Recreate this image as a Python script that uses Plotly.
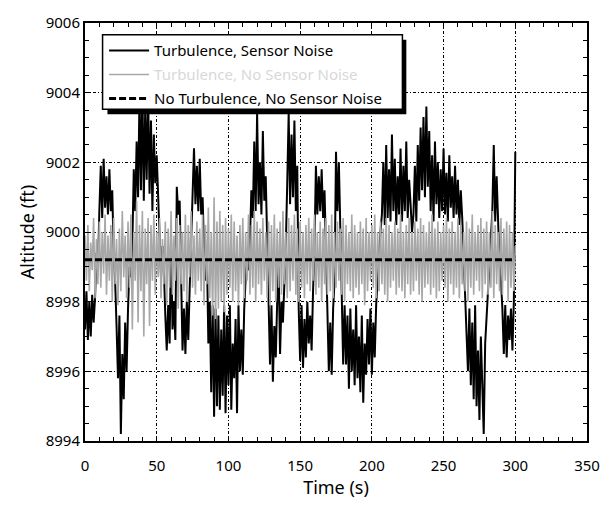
import plotly.graph_objects as go

# Sample times (s), one sample per second over the 300 s run
time_s = list(range(0, 301))

# Altitude with turbulence and sensor noise (ft)
alt_turb_noise = [
    8997.2, 8998.3, 8996.9, 8998.0, 8997.0, 8998.2, 8997.4, 8998.1, 8999.4, 8998.9,
    9000.6, 9001.9, 9000.4, 9002.1, 9000.7, 9001.6, 9000.5, 9001.8, 9000.6, 9001.2,
    8999.4, 8998.6, 8997.3, 8995.8, 8997.6, 8994.2, 8996.5, 8995.2, 8997.4, 8996.0,
    8997.8, 8999.0, 8998.7, 8999.6, 9001.8, 9000.6, 9002.6, 9001.0, 9003.9, 9001.2,
    9004.2, 9000.9, 9003.6, 9001.5, 9004.0, 9001.1, 9003.2, 9000.6, 9002.8, 9001.4,
    9002.2, 9000.8, 8999.4, 8998.7, 8999.6, 8998.9, 8997.6, 8996.6, 8997.9, 8996.8,
    8999.8, 8997.2, 8998.0, 8996.9, 9001.3, 9000.5, 9000.9, 8999.0, 8996.6, 8997.8,
    8996.5, 8998.0, 8996.9, 8998.4, 8999.6, 9001.1, 9002.4, 9000.8, 9001.9, 9000.6,
    9002.1, 9000.5, 9001.0, 8999.5, 8998.6, 8999.4, 8996.8, 8998.0, 8995.4, 8997.9,
    8994.7, 8997.8, 8995.0, 8997.6, 8994.9, 8997.2, 8995.3, 8997.9, 8994.8, 8997.6,
    8995.6, 8997.9, 8994.9, 8996.8, 8995.8, 8997.5, 8994.8, 8997.9, 8996.0, 8997.2,
    8995.9, 8997.8, 8998.8, 8999.5, 8998.9, 8999.8, 9001.2, 9000.4, 9002.6, 9000.6,
    9003.4, 9000.8, 9002.0, 9000.5, 9002.9, 9000.9, 9001.6, 8999.6, 8997.6, 8996.2,
    8997.9, 8995.7, 8997.3, 8996.4, 8998.0, 8999.0, 8996.5, 8998.0, 8997.4, 8998.4,
    8999.6, 9001.4, 9003.4, 9000.8, 9002.8, 9001.0, 9003.2, 9000.6, 9001.9, 8997.8,
    8996.3, 8997.9, 8996.1, 8997.5, 8996.4, 8998.0, 8996.8, 8997.6, 8996.6, 8998.3,
    8999.6, 9001.9, 9000.5, 9001.6, 9000.6, 9001.8, 9000.4, 9001.2, 8999.5, 8998.4,
    8996.0, 8997.4, 8995.9, 8997.8, 8998.6, 9002.3, 9000.6, 9002.0, 9000.4, 8998.2,
    8996.2, 8997.9, 8996.2, 8997.6, 8995.5, 8997.8, 8996.0, 8997.2, 8995.6, 8997.9,
    8995.8, 8997.0, 8995.4, 8997.6, 8995.1, 8996.8, 8995.9, 8997.5, 8996.2, 8997.8,
    8995.9, 8997.4, 8996.4, 8997.9, 8998.6, 8999.4, 9000.0, 9000.5, 9002.0, 9000.2,
    9002.5, 9000.4, 9001.8, 9000.3, 9002.8, 9000.6, 9002.1, 9000.2, 9001.6, 9000.5,
    9002.4, 9000.3, 9001.9, 9000.6, 9002.6, 9000.4, 9001.5, 9000.8, 9000.0, 9000.5,
    9001.9, 9000.3, 9002.5, 9000.9, 9003.0, 9001.2, 9003.3, 9001.0, 9003.6, 9001.3,
    9002.9, 9000.6, 9002.2, 9000.3, 9002.6, 9000.8, 9002.0, 9000.4, 9001.8, 9000.6,
    9002.4, 9000.5, 9001.7, 9000.3, 9002.2, 9000.7, 9001.6, 9000.4, 9001.9, 9000.5,
    9001.5, 9000.2, 9001.2, 9000.4, 8999.3, 8998.6, 8997.2, 8996.0, 8997.8, 8995.6,
    8997.4, 8995.2, 8997.9, 8995.0, 8996.6, 8994.6, 8997.0, 8995.4, 8994.2, 8996.8,
    8997.6, 8998.6, 8999.4, 8999.9, 9000.6, 9002.5, 9000.3, 9001.6, 9000.4, 8999.1,
    8998.6, 8997.8, 8996.5, 8997.9, 8996.4, 8997.6, 8996.9, 8997.8, 8996.6, 8998.0,
    9002.3,
]

# Altitude with turbulence only (ft)
alt_turb_only = [
    8999.9, 8998.6, 9000.2, 8998.3, 8999.7, 8998.9, 9000.4, 8998.1, 8999.8, 8998.5,
    9000.3, 8998.4, 9000.0, 8998.8, 9000.5, 8998.2, 8999.9, 8998.6, 9000.2, 8998.0,
    9000.4, 8998.5, 8999.8, 8997.9, 9000.1, 8998.3, 9000.6, 8998.7, 8999.9, 8998.1,
    9000.3, 8998.4, 9000.5, 8997.2, 9000.0, 8998.6, 9000.9, 8997.4, 9000.2, 8998.3,
    9000.6, 8997.0, 9000.1, 8998.5, 9000.4, 8997.3, 9000.2, 8998.6, 9000.5, 8998.2,
    9000.0, 8998.7, 9000.4, 8998.1, 8999.8, 8998.5, 9000.3, 8997.9, 9000.1, 8998.4,
    9000.6, 8998.2, 8999.9, 8998.6, 9000.4, 8997.8, 9000.2, 8998.5, 9000.0, 8998.3,
    9000.5, 8998.0, 9000.2, 8998.7, 9000.6, 8998.4, 8999.9, 8998.2, 9000.3, 8998.6,
    9000.1, 8998.3, 9000.5, 8997.9, 9000.2, 8998.5, 9000.7, 8998.1, 9000.0, 8997.6,
    9001.0, 8997.5, 9000.3, 8997.8, 9000.6, 8998.0, 9000.2, 8997.7, 9000.4, 8998.2,
    9000.1, 8998.4, 9000.5, 8998.0, 9000.3, 8998.3, 8999.9, 8997.9, 9000.2, 8998.5,
    9000.4, 8998.1, 9000.0, 8998.6, 9000.5, 8998.2, 9000.2, 8998.4, 9000.6, 8998.0,
    9000.3, 8998.5, 9000.1, 8998.2, 9000.4, 8998.6, 9000.0, 8998.1, 9000.3, 8997.9,
    9000.2, 8998.3, 9000.5, 8998.0, 9000.1, 8998.4, 9000.3, 8998.2, 9000.6, 8998.5,
    9000.0, 8998.1, 9000.4, 8998.3, 9000.2, 8998.6, 9000.5, 8998.2, 9000.1, 8998.0,
    9000.3, 8998.4, 9000.0, 8998.1, 9000.2, 8998.5, 9000.4, 8998.3, 9000.1, 8998.6,
    9000.5, 8998.2, 9000.0, 8998.4, 9000.3, 8998.0, 9000.1, 8998.5, 9000.4, 8998.2,
    9000.2, 8998.3, 9000.5, 8998.1, 9000.0, 8998.4, 9000.3, 8998.6, 9000.1, 8998.2,
    9000.4, 8998.0, 9000.2, 8998.5, 9000.0, 8998.3, 9000.5, 8998.1, 9000.2, 8998.4,
    9000.0, 8998.2, 9000.3, 8998.5, 9000.1, 8997.9, 9000.4, 8998.3, 9000.0, 8998.6,
    9000.2, 8998.4, 9000.5, 8998.1, 9000.0, 8998.3, 9000.3, 8998.5, 9000.1, 8998.2,
    9000.4, 8998.0, 9000.2, 8998.4, 9000.0, 8998.6, 9000.3, 8998.2, 9000.1, 8998.4,
    9000.5, 8998.3, 9000.0, 8998.1, 9000.2, 8998.5, 9000.4, 8998.2, 9000.0, 8998.3,
    9000.3, 8998.6, 9000.1, 8998.2, 9000.4, 8998.0, 9000.2, 8998.4, 9000.0, 8998.5,
    9000.3, 8998.2, 9000.5, 8998.4, 9000.1, 8998.1, 9000.3, 8998.3, 9000.0, 8998.6,
    9000.2, 8998.4, 9000.4, 8998.0, 9000.1, 8998.5, 9000.3, 8998.2, 9000.0, 8998.4,
    9000.4, 8998.1, 9000.2, 8998.5, 9000.0, 8998.3, 9000.3, 8998.0, 9000.1, 8998.4,
    9000.5, 8998.2, 9000.0, 8998.6, 9000.2, 8998.3, 9000.4, 8998.1, 9000.1, 8998.5,
    9000.3, 8998.2, 9000.0, 8998.4, 9000.6, 8998.1, 9000.2, 8998.5, 9000.0, 8998.3,
    9000.4, 8998.2, 9000.1, 8998.6, 9000.3, 8998.0, 9000.2, 8998.4, 9000.0, 8998.3,
    8999.6,
]

# Reference altitude with neither turbulence nor noise (ft)
calm_time_s = [0, 300]
alt_calm = [8999.2, 8999.2]

FONT = "Noto Sans, DejaVu Sans, sans-serif"

fig = go.Figure()
fig.add_trace(go.Scatter(
    x=time_s, y=alt_turb_noise, mode="lines", name="Turbulence, Sensor Noise",
    legendgroup="a", line=dict(color="black", width=2.0),
))
fig.add_trace(go.Scatter(
    x=time_s, y=alt_turb_only, mode="lines",
    name="<span style='color:#d8d8d8'>Turbulence, No Sensor Noise</span>",
    legendgroup="b", line=dict(color="#a8a8a8", width=1.6),
))
fig.add_trace(go.Scatter(
    x=calm_time_s, y=alt_calm, mode="lines",
    name="No Turbulence, No Sensor Noise",
    legendgroup="c", line=dict(color="black", width=3, dash="7px,3px"),
))

axis_common = dict(
    showline=True, linecolor="black", linewidth=2, mirror="allticks",
    ticks="inside", ticklen=5, tickcolor="black", tickwidth=1,
    showgrid=True, gridcolor="black", gridwidth=1, griddash="3px,2px,1px,2px",
    zeroline=False, tickfont=dict(family=FONT, size=15, color="black"),
)

fig.update_xaxes(
    range=[0, 350], tick0=0, dtick=50, ticklabelstandoff=10,
    minor=dict(dtick=10, ticks="inside", ticklen=4, tickcolor="black", showgrid=False),
    title=dict(text="Time (s)", font=dict(family=FONT, size=18, color="black"), standoff=4),
    **axis_common,
)
fig.update_yaxes(
    range=[8994, 9006], tick0=8994, dtick=2,
    minor=dict(dtick=0.5, ticks="inside", ticklen=4, tickcolor="black", showgrid=False),
    title=dict(text="Altitude (ft)", font=dict(family=FONT, size=18, color="black"), standoff=6),
    **axis_common,
)

# legend frame: drop shadow, then white box with black border
legend_shapes = [
    dict(type="rect", xref="paper", yref="paper",
         x0=0.0447, x1=0.6401, y0=0.7817, y1=0.9601,
         fillcolor="black", line=dict(width=0), layer="above"),
    dict(type="rect", xref="paper", yref="paper",
         x0=0.0350, x1=0.6323, y0=0.7934, y1=0.9718,
         fillcolor="white", line=dict(color="black", width=1.5), layer="above"),
]

fig.update_layout(
    width=612, height=507,
    margin=dict(l=85, r=13, t=15, b=66),
    paper_bgcolor="white", plot_bgcolor="white",
    font=dict(family=FONT, color="black"),
    shapes=legend_shapes,
    showlegend=True,
    legend=dict(
        x=0.038, y=0.973, xanchor="left", yanchor="top",
        bgcolor="rgba(0,0,0,0)", borderwidth=0,
        font=dict(family=FONT, size=15, color="black"),
        itemwidth=40, tracegroupgap=1.5, traceorder="grouped",
    ),
)

fig.write_html("out.html")
